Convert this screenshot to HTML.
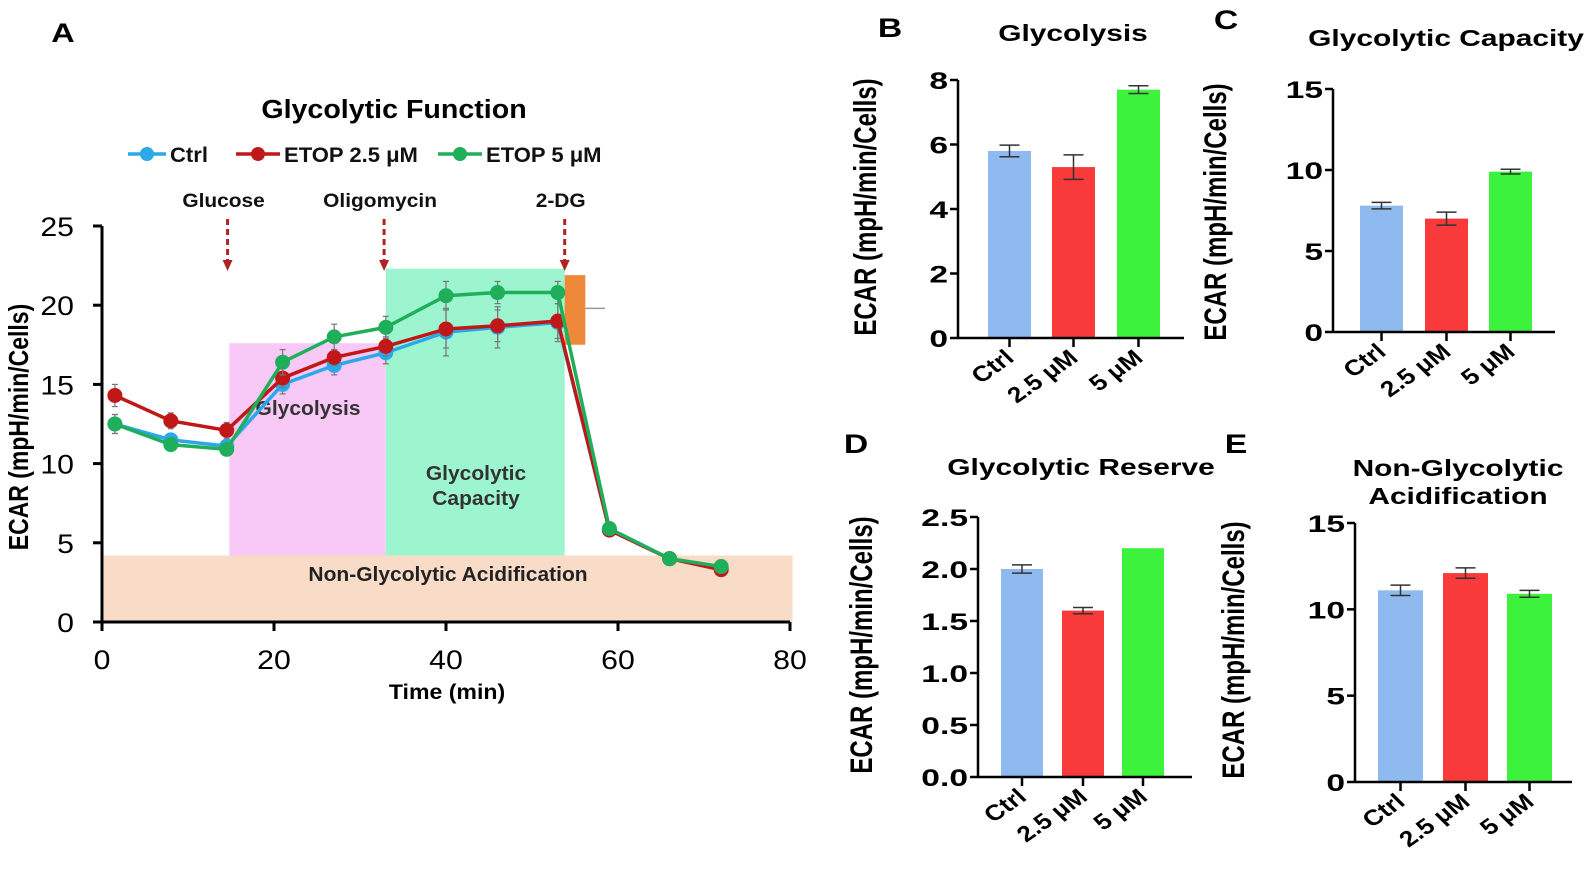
<!DOCTYPE html>
<html><head><meta charset="utf-8">
<style>
html,body{margin:0;padding:0;background:#fff;}
svg{display:block;font-family:"Liberation Sans",Arial,sans-serif;font-weight:bold;}
</style></head>
<body>
<svg id="fig" width="1593" height="877" viewBox="0 0 1593 877" xmlns="http://www.w3.org/2000/svg">
<g id="panelA"></g>
<g id="bars"></g>
</svg>
<script>
// ---------- Panel A data ----------
const times = [1.5, 8, 14.5, 21, 27, 33, 40, 46, 53, 59, 66, 72];
const ctrlVals = [12.5, 11.5, 11.1, 15.0, 16.2, 17.0, 18.3, 18.6, 18.9, 5.8, 4.0, 3.4];
const etop25Vals = [14.3, 12.7, 12.1, 15.4, 16.7, 17.4, 18.5, 18.7, 19.0, 5.8, 4.0, 3.3];
const etop5Vals = [12.5, 11.2, 10.9, 16.4, 18.0, 18.6, 20.6, 20.8, 20.8, 5.9, 4.0, 3.5];
const ctrlErr = [0.6, 0.4, 0.3, 0.6, 0.6, 0.7, 1.5, 1.3, 1.2, 0.3, 0.2, 0.2];
const etop25Err = [0.7, 0.5, 0.5, 0.6, 0.5, 0.6, 1.2, 1.0, 1.1, 0.3, 0.2, 0.2];
const etop5Err = [0.6, 0.4, 0.4, 0.8, 0.8, 0.7, 0.9, 0.7, 0.7, 0.3, 0.2, 0.2];
const xTicksA = [0, 20, 40, 60, 80];
const yTicksA = [0, 5, 10, 15, 20, 25];
const injections = [{label:"Glucose", t:14.6}, {label:"Oligomycin", t:32.8}, {label:"2-DG", t:53.8}];

// ---------- Bar panel data ----------
const categories = ["Ctrl", "2.5 μM", "5 μM"];
const glycolysisVals = [5.8, 5.3, 7.7];
const glycolysisErr = [0.18, 0.38, 0.12];
const capacityVals = [7.8, 7.0, 9.9];
const capacityErr = [0.2, 0.4, 0.15];
const reserveVals = [2.0, 1.6, 2.2];
const reserveErr = [0.04, 0.03, 0];
const nonGlycVals = [11.1, 12.1, 10.9];
const nonGlycErr = [0.3, 0.3, 0.2];
const ticksB = [0, 2, 4, 6, 8];
const ticksC = [0, 5, 10, 15];
const ticksD = [0, 0.5, 1.0, 1.5, 2.0, 2.5];
const ticksE = [0, 5, 10, 15];

const NS = "http://www.w3.org/2000/svg";
function mk(parent, tag, attrs, text){
  const e = document.createElementNS(NS, tag);
  for (const k in attrs) e.setAttribute(k, attrs[k]);
  if (text !== undefined) e.textContent = text;
  parent.appendChild(e);
  return e;
}
function T(parent, x, y, str, size, anchor, rot, sx, extra){
  const attrs = {x:0, y:0, "font-size":size, "text-anchor":anchor || "start",
    transform:`translate(${x},${y}) scale(${sx || 1.1},1)` + (rot ? ` rotate(${rot})` : "")};
  if (extra) for (const k in extra) attrs[k] = extra[k];
  return mk(parent, "text", attrs, str);
}

// ---------- Panel A ----------
const A = document.getElementById("panelA");
const ax = t => 102 + t * (790 - 102) / 80;
const ay = v => 622 - v * (622 - 226) / 25;

let e;
e = T(A, 63, 42, "A", 27, "middle", 0, 1.2);
 
e = T(A, 394, 118, "Glycolytic Function", 26, "middle", 0, 1.1);
 

e = mk(A, "rect", {x:ax(0.2), y:ay(4.2), width:ax(80.3)-ax(0.2), height:ay(0)-ay(4.2), fill:"#f9dcc8"});
 
e = mk(A, "rect", {x:ax(14.8), y:ay(17.6), width:ax(33)-ax(14.8), height:ay(4.2)-ay(17.6), fill:"#f8c8f6"});
 
e = mk(A, "rect", {x:ax(33), y:ay(22.3), width:ax(53.8)-ax(33), height:ay(4.2)-ay(22.3), fill:"#9df5cf"});
 
e = mk(A, "path", {d:`M${ax(53.8)} ${ay(21.9)} L${ax(56.2)} ${ay(21.9)} L${ax(56.2)} ${ay(17.5)} L${ax(53.8)} ${ay(17.5)} Z`, fill:"#f0883a"});
 
mk(A, "line", {x1:ax(56.2), y1:ay(19.8), x2:ax(58.5), y2:ay(19.8), stroke:"#999", "stroke-width":1.5});

e = T(A, 308, 415, "Glycolysis", 20, "middle", 0, 1.05, {fill:"#333"});
 
e = T(A, 476, 480, "Glycolytic", 20, "middle", 0, 1.05, {fill:"#333"});
 
T(A, 476, 505, "Capacity", 20, "middle", 0, 1.05, {fill:"#333"});
e = T(A, 448, 581, "Non-Glycolytic Acidification", 20, "middle", 0, 1.05, {fill:"#222"});
 

injections.forEach(inj => {
  const x = ax(inj.t);
  const g = mk(A, "g", {});
  
  
  T(g, x-4, 207, inj.label, 19, "middle", 0, 1.1, {fill:"#111"});
  mk(g, "line", {x1:x, y1:219, x2:x, y2:262, stroke:"#b22222", "stroke-width":3, "stroke-dasharray":"6,4"});
  mk(g, "path", {d:`M${x-5} 260 L${x+5} 260 L${x} 271 Z`, fill:"#b22222"});
});

e = mk(A, "line", {x1:ax(0), y1:ay(0), x2:ax(80), y2:ay(0), stroke:"#000", "stroke-width":3});
 
e = mk(A, "line", {x1:ax(0), y1:ay(0), x2:ax(0), y2:ay(25), stroke:"#000", "stroke-width":3});
 
xTicksA.forEach(t => {
  mk(A, "line", {x1:ax(t), y1:ay(0), x2:ax(t), y2:ay(0)+9, stroke:"#000", "stroke-width":3});
  const l = T(A, ax(t), 669, String(t), 27, "middle", 0, 1.12, {"font-weight":"normal"});
   
});
yTicksA.forEach(v => {
  mk(A, "line", {x1:ax(0)-9, y1:ay(v), x2:ax(0), y2:ay(v), stroke:"#000", "stroke-width":3});
  const l = T(A, 74, ay(v)+10, String(v), 27, "end", 0, 1.12, {"font-weight":"normal"});
   
});
e = T(A, 447, 699, "Time (min)", 21, "middle", 0, 1.1);
 
e = T(A, 28, 427, "ECAR (mpH/min/Cells)", 23, "middle", -90, 1.2);
 

const series = [
  {name:"ctrl", vals:ctrlVals, err:ctrlErr, color:"#2aa8e8"},
  {name:"etop-2-5", vals:etop25Vals, err:etop25Err, color:"#c01818"},
  {name:"etop-5", vals:etop5Vals, err:etop5Err, color:"#1fae5a"}
];
series.forEach(s => {
  const g = mk(A, "g", {});
  
  
  times.forEach((t, i) => {
    const x = ax(t);
    mk(g, "line", {x1:x, y1:ay(s.vals[i]+s.err[i]), x2:x, y2:ay(s.vals[i]-s.err[i]), stroke:"#777", "stroke-width":1.2});
    mk(g, "line", {x1:x-3, y1:ay(s.vals[i]+s.err[i]), x2:x+3, y2:ay(s.vals[i]+s.err[i]), stroke:"#777", "stroke-width":1.2});
    mk(g, "line", {x1:x-3, y1:ay(s.vals[i]-s.err[i]), x2:x+3, y2:ay(s.vals[i]-s.err[i]), stroke:"#777", "stroke-width":1.2});
  });
  const pts = times.map((t, i) => `${ax(t)},${ay(s.vals[i])}`).join(" ");
  mk(g, "polyline", {points:pts, fill:"none", stroke:s.color, "stroke-width":3.5});
  times.forEach((t, i) => {
    const c = mk(g, "circle", {cx:ax(t), cy:ay(s.vals[i]), r:7.5, fill:s.color});
    
    
  });
});

const legend = [
  {label:"Ctrl", color:"#2aa8e8", x:128, tx:170},
  {label:"ETOP 2.5 μM", color:"#c01818", x:236, tx:284},
  {label:"ETOP 5 μM", color:"#1fae5a", x:438, tx:486}
];
legend.forEach(l => {
  const g = mk(A, "g", {});
  
  
  mk(g, "line", {x1:l.x, y1:154, x2:l.tx-4, y2:154, stroke:l.color, "stroke-width":3.5});
  mk(g, "circle", {cx:(l.x + l.tx - 4)/2, cy:154, r:7, fill:l.color});
  T(g, l.tx, 162, l.label, 21, "start", 0, 1.05, {fill:"#111"});
});

// ---------- Bar panels ----------
const B = document.getElementById("bars");
const barColors = ["#8fbaf0", "#f83a3a", "#3df23d"];
function barPanel(cfg){
  const g = mk(B, "g", {});
  
  
  const y = v => cfg.y0 - v * (cfg.y0 - cfg.yTop) / cfg.max;
  const lab = T(g, cfg.lx, cfg.ly, cfg.letter, 27, "middle", 0, 1.25);
   
  cfg.title.forEach((t, i) => {
    const tt = T(g, cfg.tx, cfg.ty + i*28, t, 23, "middle", 0, 1.3);
     
  });
  const yt = T(g, cfg.ytx, cfg.yty, "ECAR (mpH/min/Cells)", 24, "middle", -90, 1.3);
   
  cfg.vals.forEach((v, i) => {
    const x = cfg.bx[i];
    const r = mk(g, "rect", {x:x, y:y(v), width:cfg.bw, height:cfg.y0 - y(v), fill:barColors[i]});
    
    
    const cx = x + cfg.bw/2;
    if (cfg.err[i] > 0){
      mk(g, "line", {x1:cx, y1:y(v+cfg.err[i]), x2:cx, y2:y(v-cfg.err[i]), stroke:"#333", "stroke-width":1.5});
      mk(g, "line", {x1:cx-10, y1:y(v+cfg.err[i]), x2:cx+10, y2:y(v+cfg.err[i]), stroke:"#333", "stroke-width":1.5});
      mk(g, "line", {x1:cx-10, y1:y(v-cfg.err[i]), x2:cx+10, y2:y(v-cfg.err[i]), stroke:"#333", "stroke-width":1.5});
    }
    mk(g, "line", {x1:cx, y1:cfg.y0, x2:cx, y2:cfg.y0+9, stroke:"#000", "stroke-width":2.5});
    const cl = T(g, cx+6, cfg.y0+22, categories[i], 22, "end", -40, 1.2);
     
  });
  mk(g, "line", {x1:cfg.ax, y1:cfg.y0, x2:cfg.axEnd, y2:cfg.y0, stroke:"#000", "stroke-width":2.5});
  mk(g, "line", {x1:cfg.ax, y1:cfg.y0, x2:cfg.ax, y2:cfg.yTop, stroke:"#000", "stroke-width":2.5});
  cfg.ticks.forEach(t => {
    mk(g, "line", {x1:cfg.ax-8, y1:y(t), x2:cfg.ax, y2:y(t), stroke:"#000", "stroke-width":2.5});
    const tl = T(g, cfg.ax-10, y(t)+9, cfg.fmt ? t.toFixed(1) : String(t), 24, "end", 0, 1.4);
     
  });
}
barPanel({name:"panel-b-glycolysis", letter:"B", lx:890, ly:37, title:["Glycolysis"], tx:1073, ty:41,
  vals:glycolysisVals, err:glycolysisErr, ticks:ticksB, max:8, y0:338, yTop:80, ax:958, axEnd:1184,
  bx:[988, 1052, 1117], bw:43, ytx:876, yty:207});
barPanel({name:"panel-c-glycolytic-capacity", letter:"C", lx:1226, ly:29, title:["Glycolytic Capacity"], tx:1446, ty:46,
  vals:capacityVals, err:capacityErr, ticks:ticksC, max:15, y0:332, yTop:89, ax:1333, axEnd:1555,
  bx:[1360, 1425, 1489], bw:43, ytx:1226, yty:212});
barPanel({name:"panel-d-glycolytic-reserve", letter:"D", lx:856, ly:453, title:["Glycolytic Reserve"], tx:1081, ty:475,
  vals:reserveVals, err:reserveErr, ticks:ticksD, max:2.5, y0:777, yTop:517, ax:978, axEnd:1192, fmt:true,
  bx:[1001, 1062, 1122], bw:42, ytx:872, yty:645});
barPanel({name:"panel-e-non-glycolytic", letter:"E", lx:1236, ly:453, title:["Non-Glycolytic", "Acidification"], tx:1458, ty:476,
  vals:nonGlycVals, err:nonGlycErr, ticks:ticksE, max:15, y0:782, yTop:523, ax:1355, axEnd:1572,
  bx:[1378, 1443, 1507], bw:45, ytx:1244, yty:650});
</script>
</body></html>
